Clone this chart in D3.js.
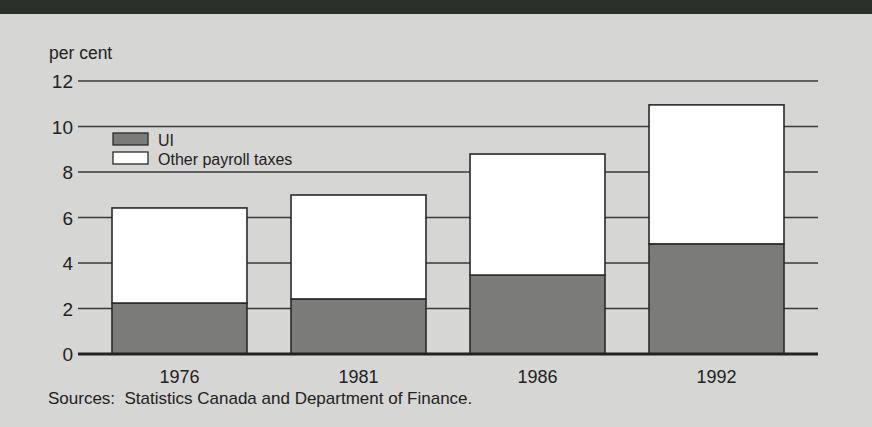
<!DOCTYPE html>
<html><head><meta charset="utf-8">
<script src="https://cdn.jsdelivr.net/npm/d3@7"></script>
<style>html,body{margin:0;padding:0;background:#d8d8d6;}svg{display:block;font-family:"Liberation Sans",Arial,Helvetica,sans-serif;}</style>
</head><body>
<svg id="c" width="872" height="427"></svg>
<script>
const years = ["1976","1981","1986","1992"];
const uiValues = [2.24, 2.42, 3.47, 4.84];
const otherValues = [4.18, 4.57, 5.32, 6.11];
const yTicks = [0,2,4,6,8,10,12];
const seriesNames = ["UI","Other payroll taxes"];
const colors = {"UI":"#7b7b79","Other payroll taxes":"#ffffff"};

const svg = d3.select("#c");
svg.append("rect").attr("width",872).attr("height",427).attr("fill","#d6d6d4");
svg.append("rect").attr("width",872).attr("height",14).attr("fill","#2b302b");

const x = d3.scaleBand().domain(years).range([112,784]).paddingInner(0.246).paddingOuter(0);
const y = d3.scaleLinear().domain([0,12]).range([354,81]);

// gridlines
svg.append("g").selectAll("line").data(yTicks.filter(d=>d>0)).join("line")
  .attr("x1",78).attr("x2",818).attr("y1",d=>y(d)).attr("y2",d=>y(d))
  .attr("stroke","#3a3a3a").attr("stroke-width",1.3);

// tick labels
svg.append("g").selectAll("text").data(yTicks).join("text")
  .attr("x",73).attr("y",d=>y(d)+7).attr("text-anchor","end")
  .attr("font-size",19).attr("fill","#222").text(d=>d);

svg.append("text").attr("x",49).attr("y",59).attr("font-size",17.5).attr("fill","#222").text("per cent");

const data = years.map((yr,i)=>({year:yr,"UI":uiValues[i],"Other payroll taxes":otherValues[i]}));
const stack = d3.stack().keys(seriesNames)(data);

svg.append("g").selectAll("g").data(stack).join("g")
  .attr("fill",d=>colors[d.key])
  .selectAll("rect").data(d=>d).join("rect")
  .attr("x",d=>x(d.data.year)).attr("width",x.bandwidth())
  .attr("y",d=>y(d[1])).attr("height",d=>y(d[0])-y(d[1]))
  .attr("stroke","#2a2a2a").attr("stroke-width",1.6);

// zero axis
svg.append("line").attr("x1",78).attr("x2",818).attr("y1",y(0)).attr("y2",y(0))
  .attr("stroke","#222").attr("stroke-width",3);

// x labels
svg.append("g").selectAll("text").data(years).join("text")
  .attr("x",d=>x(d)+x.bandwidth()/2).attr("y",383).attr("text-anchor","middle")
  .attr("font-size",18).attr("fill","#222").text(d=>d);

// legend
const leg = svg.append("g");
seriesNames.forEach((s,i)=>{
  leg.append("rect").attr("x",113).attr("y",133+i*19).attr("width",35).attr("height",12)
    .attr("fill",colors[s]).attr("stroke","#2a2a2a").attr("stroke-width",1.3);
  leg.append("text").attr("x",158).attr("y",146+i*19).attr("font-size",16).attr("fill","#222").text(s);
});

svg.append("text").attr("x",48).attr("y",404).attr("font-size",17).attr("fill","#222")
  .attr("xml:space","preserve").text("Sources:  Statistics Canada and Department of Finance.");
</script>
</body></html>
